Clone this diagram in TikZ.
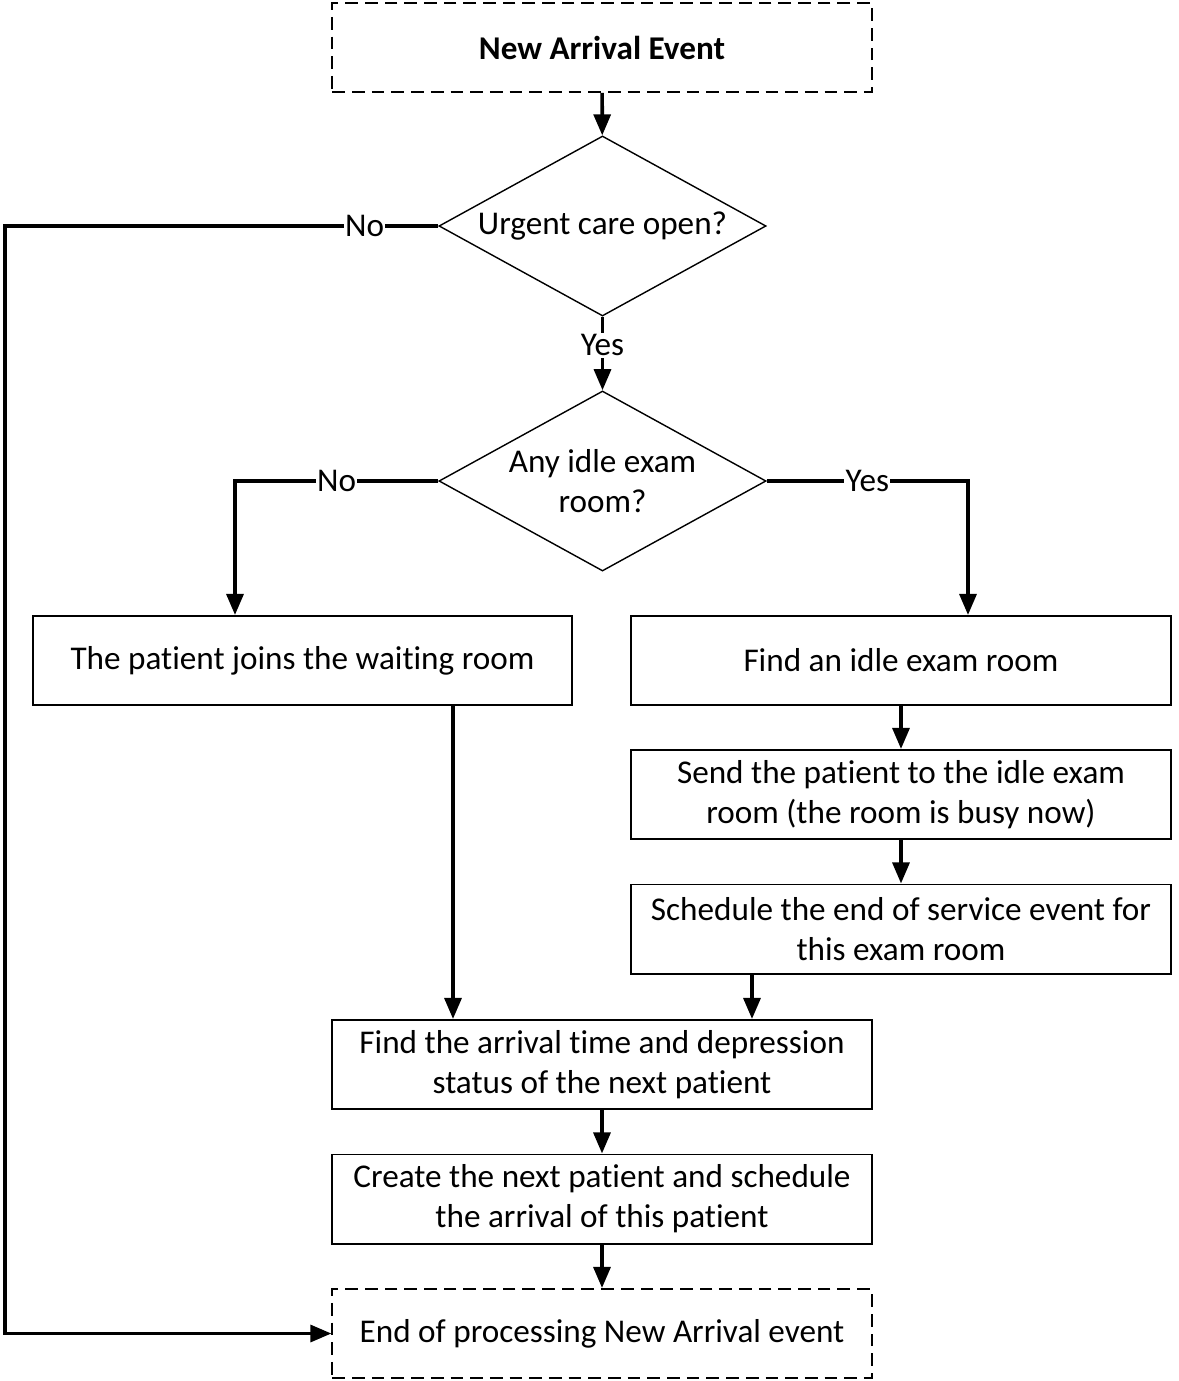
\documentclass[tikz,border=0pt]{standalone}
\usepackage{fontspec}
\setmainfont{Carlito}[Ligatures={NoCommon}]
\usepackage{tikz}
\usetikzlibrary{positioning,calc,arrows.meta,shapes.geometric}

\begin{document}
\begin{tikzpicture}[
	x=0.025cm, y=-0.025cm,
	every node/.style={font=\fontsize{23.6}{28.4}\selectfont},
	process/.style={rectangle, draw=black, line width=1.4pt, minimum width=13.475cm, minimum height=2.225cm, align=center, inner sep=2pt},
	terminal/.style={process, dash pattern=on 9pt off 5pt},
	decision/.style={diamond, draw=black, line width=1pt, minimum width=8.175cm, minimum height=4.5cm, aspect=1.8, inner sep=-2pt, align=center},
	arrow/.style={-{Triangle[length=15pt,width=12pt]}, line width=2.6pt},
	lbl/.style={fill=white, inner sep=1pt}
	]
	\useasboundingbox (0,0) rectangle (1178,1381);
	
	% ===== START / END =====
	\node[terminal] (start)  at (602,47.5)   {\textbf{New Arrival Event}};
	\node[terminal] (finish) at (602,1333.5) {End of processing New Arrival event};
	
	% ===== DECISIONS =====
	\node[decision] (open) at (602.5,226) {Urgent care open?};
	\node[decision] (idle) at (602.5,481) {Any idle exam\\room?};
	
	% ===== PROCESS BOXES =====
	\node[process] (wait)    at (302.5,660.5) {The patient joins the waiting room};
	\node[process] (find)    at (901,660.5)   {Find an idle exam room};
	\node[process] (send)    at (901,794.5)   {Send the patient to the idle exam\\room (the room is busy now)};
	\node[process] (sched)   at (901,929)     {Schedule the end of service event for\\this exam room};
	\node[process] (nextarr) at (602,1064.5)  {Find the arrival time and depression\\status of the next patient};
	\node[process] (create)  at (602,1199)    {Create the next patient and schedule\\the arrival of this patient};
	
	% ===== CORNERS =====
	\coordinate (leftrail)  at (5,226);
	\coordinate (nocorner)  at (235,481);
	\coordinate (yescorner) at (968,481);
	
	% ===== ARROWS =====
	\draw[arrow] (start) -- (open);
	\draw[arrow] (open.west) -- node[lbl, pos=0.17] {No} (leftrail) |- (finish.west);
	\draw[arrow] (open) -- node[lbl, pos=0.39] {Yes} (idle);
	
	\draw[arrow] (idle.west) -- node[lbl] {No} (nocorner) -- (nocorner |- wait.north);
	\draw[arrow] (idle.east) -- node[lbl] {Yes} (yescorner) -- (yescorner |- find.north);
	
	\draw[arrow] (find) -- (send);
	\draw[arrow] (send) -- (sched);
	
	\draw[arrow] (wait.south) ++(150.5,0) coordinate (w1) -- (w1 |- nextarr.north);
	\draw[arrow] (sched.south) ++(-149,0) coordinate (s1) -- (s1 |- nextarr.north);
	
	\draw[arrow] (nextarr) -- (create);
	\draw[arrow] (create) -- (finish);
\end{tikzpicture}
\end{document}
